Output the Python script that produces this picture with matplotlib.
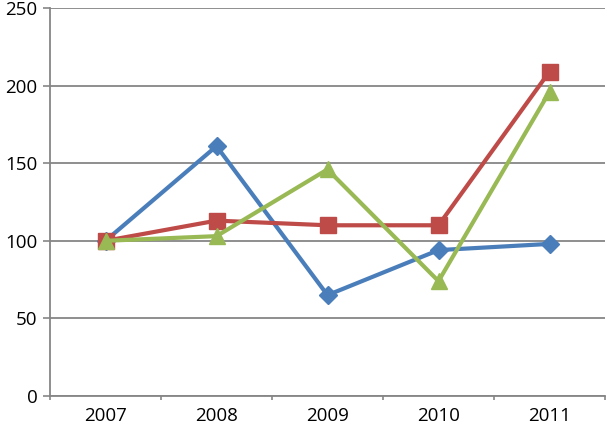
import matplotlib
matplotlib.use("Agg")
import matplotlib.pyplot as plt
import numpy as np

# ─── Data ────────────────────────────────────────────────────────────────────
years = ["2007", "2008", "2009", "2010", "2011"]
blue_vals = [100, 161, 65, 94, 98]
red_vals = [100, 113, 110, 110, 209]
green_vals = [100, 103, 146, 74, 196]
y_ticks = [0, 50, 100, 150, 200, 250]

plt.rcParams["font.family"] = ["Open Sans", "DejaVu Sans"]

fig = plt.figure(figsize=(6.07, 4.30), dpi=100)
ax = fig.add_axes([50 / 607, 34 / 430, 555 / 607, 388 / 430])

x = np.arange(len(years))
grid_col = "#868686"

ax.plot(x, blue_vals, color="#4A7EBB", lw=3, marker="D", ms=9, zorder=3)
ax.plot(x, red_vals, color="#BE4B48", lw=3, marker="s", ms=11, zorder=4)
ax.plot(x, green_vals, color="#98B954", lw=3, marker="^", ms=12, zorder=5)

ax.set_xlim(-0.5, len(years) - 0.5)
ax.set_ylim(0, 250)
ax.set_yticks(y_ticks)
ax.set_yticklabels([str(t) for t in y_ticks], fontsize=13.5)
ax.set_xticks(x)
ax.set_xticklabels(years, fontsize=13.5)
ax.set_xticks(np.arange(len(years) + 1) - 0.5, minor=True)
ax.tick_params(axis="x", which="major", length=0, pad=8)
ax.tick_params(axis="x", which="minor", length=3, color=grid_col, width=1.2)
ax.tick_params(axis="y", length=5, color=grid_col, width=1.2, pad=4)

ax.grid(True, axis="y", color=grid_col, lw=1.3)
ax.set_axisbelow(True)
for side in ["top", "right"]:
    ax.spines[side].set_visible(False)
for side in ["left", "bottom"]:
    ax.spines[side].set_color(grid_col)
    ax.spines[side].set_linewidth(1.3)

fig.savefig("out.png", dpi=100)
